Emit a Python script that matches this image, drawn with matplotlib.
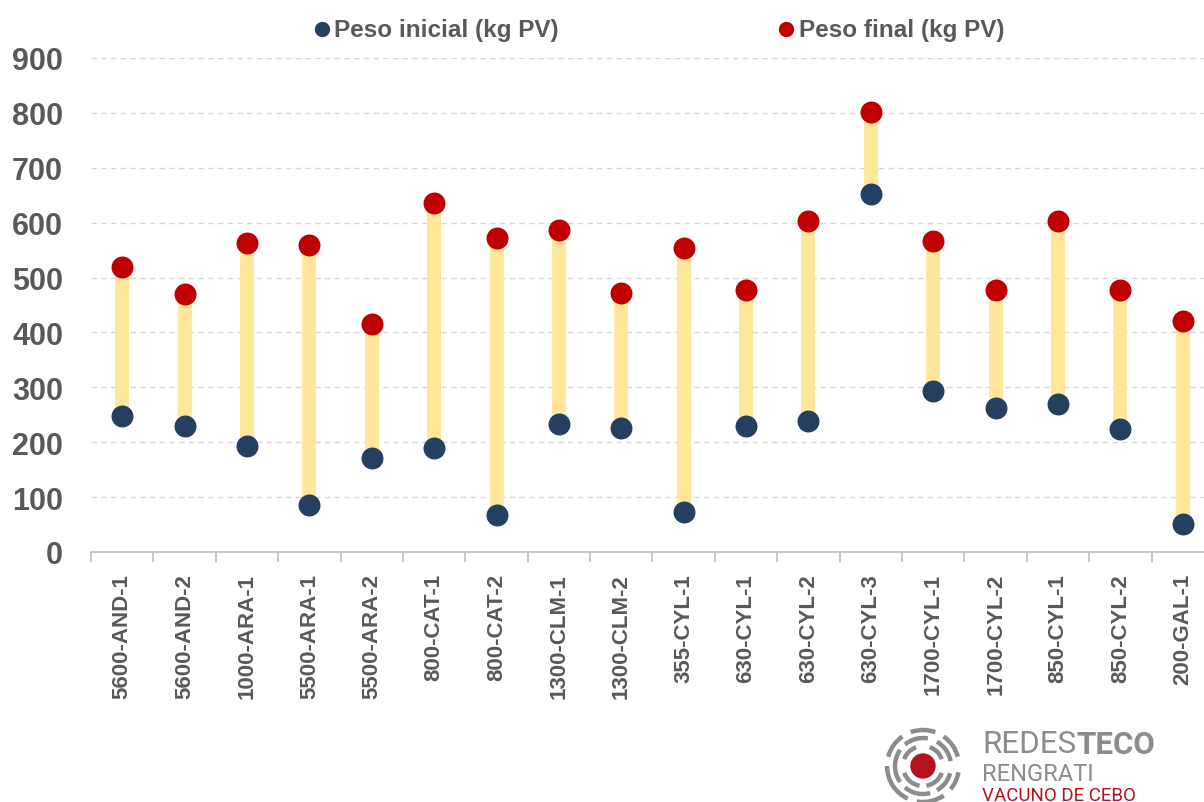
import matplotlib
matplotlib.use("Agg")
import matplotlib.pyplot as plt
import numpy as np
from matplotlib.lines import Line2D
from matplotlib.patches import Arc, Circle

categories = ["5600-AND-1", "5600-AND-2", "1000-ARA-1", "5500-ARA-1", "5500-ARA-2",
              "800-CAT-1", "800-CAT-2", "1300-CLM-1", "1300-CLM-2", "355-CYL-1",
              "630-CYL-1", "630-CYL-2", "630-CYL-3", "1700-CYL-1", "1700-CYL-2",
              "850-CYL-1", "850-CYL-2", "200-GAL-1"]
peso_inicial = [248, 230, 193, 86, 171, 189, 67, 233, 226, 73, 230, 239, 652, 293, 262, 270, 224, 51]
peso_final = [519, 470, 563, 559, 415, 636, 572, 587, 472, 554, 477, 603, 801, 566, 477, 603, 477, 421]
yticks = [0, 100, 200, 300, 400, 500, 600, 700, 800, 900]

C_INI = "#243F60"
C_FIN = "#C00000"
C_BAR = "#FFE699"
C_TXT = "#595959"

plt.rcParams['font.family'] = ['Liberation Sans', 'DejaVu Sans']

W, H = 1204, 803
fig = plt.figure(figsize=(W / 100, H / 100), dpi=100)
ax = fig.add_axes([91 / W, (H - 553) / H, 1123 / W, (553 - 59) / H])

x = np.arange(len(categories))
ax.vlines(x, peso_inicial, peso_final, colors=C_BAR, linewidth=10, zorder=2)
ax.scatter(x, peso_inicial, s=250, color=C_INI, zorder=3, linewidths=0)
ax.scatter(x, peso_final, s=250, color=C_FIN, zorder=3, linewidths=0)

ax.set_xlim(-0.5, len(categories) - 0.5)
ax.set_ylim(0, 900)
ax.set_yticks(yticks)
ax.set_yticklabels([str(v) for v in yticks], fontsize=22, fontweight='bold', color=C_TXT)
ax.tick_params(axis='y', length=0, pad=20)
ax.set_xticks(x)
ax.set_xticklabels(categories, rotation=90, fontsize=16, fontweight='bold', color=C_TXT)
ax.tick_params(axis='x', which='major', length=0, pad=15)
ax.set_xticks(np.arange(-0.5, len(categories), 1), minor=True)
ax.tick_params(axis='x', which='minor', length=7, width=1.2, color='#BFBFBF', direction='out')
ax.grid(axis='y', linestyle=(0, (4, 3)), color='#D9D9D9', linewidth=1)
ax.set_axisbelow(True)
for s in ['top', 'right', 'left']:
    ax.spines[s].set_visible(False)
ax.spines['bottom'].set_color('#BFBFBF')
ax.spines['bottom'].set_linewidth(1.2)

# Legend
fig.text(334 / W, 1 - 30 / H, "Peso inicial (kg PV)", fontsize=17.5, fontweight='bold',
         color=C_TXT, va='center', ha='left')
fig.text(799 / W, 1 - 30 / H, "Peso final (kg PV)", fontsize=17.5, fontweight='bold',
         color=C_TXT, va='center', ha='left')
fig.add_artist(Line2D([322 / W], [1 - 30 / H], marker='o', markersize=10, color=C_INI,
                      linestyle='none', transform=fig.transFigure))
fig.add_artist(Line2D([786 / W], [1 - 30 / H], marker='o', markersize=10, color=C_FIN,
                      linestyle='none', transform=fig.transFigure))

# Logo
lx0, ly0, lw, lh = 880, 700, 324, 103
lax = fig.add_axes([lx0 / W, (H - ly0 - lh) / H, lw / W, lh / H])
lax.set_xlim(lx0, lx0 + lw)
lax.set_ylim(ly0 + lh, ly0)
lax.axis('off')
cx, cy = 923, 767
lax.add_patch(Circle((cx, cy), 12, color='#B5121B', zorder=3))
gray = '#8C8C8C'
rings = [(20, [(20, 80), (100, 160), (200, 250), (290, 340)]),
         (28, [(15, 60), (75, 130), (145, 215), (230, 280), (300, 350)]),
         (36, [(10, 40), (55, 100), (115, 180), (195, 235), (250, 290), (305, 345)])]
for r, segs in rings:
    for a1, a2 in segs:
        lax.add_patch(Arc((cx, cy), 2 * r, 2 * r, theta1=a1, theta2=a2, color=gray,
                          linewidth=3.2, zorder=2))
t1 = lax.text(982, 745, "REDES", fontsize=22.5, color=gray, family=['Roboto', 'DejaVu Sans'],
              fontweight='normal', va='center', ha='left')
fig.canvas.draw()
bb = t1.get_window_extent(renderer=fig.canvas.get_renderer())
xend = lax.transData.inverted().transform((bb.x1, bb.y0))[0]
lax.text(xend, 745, "TECO", fontsize=22.5, color=gray, family=['Roboto', 'DejaVu Sans'],
         fontweight='bold', va='center', ha='left')
lax.text(982, 775, "RENGRATI", fontsize=17, color=gray, family=['Roboto', 'DejaVu Sans'],
         va='center', ha='left')
lax.text(982, 796, "VACUNO DE CEBO", fontsize=13.5, color='#B5121B',
         family=['Roboto', 'DejaVu Sans'], va='center', ha='left')

fig.savefig("out.png", dpi=100)
